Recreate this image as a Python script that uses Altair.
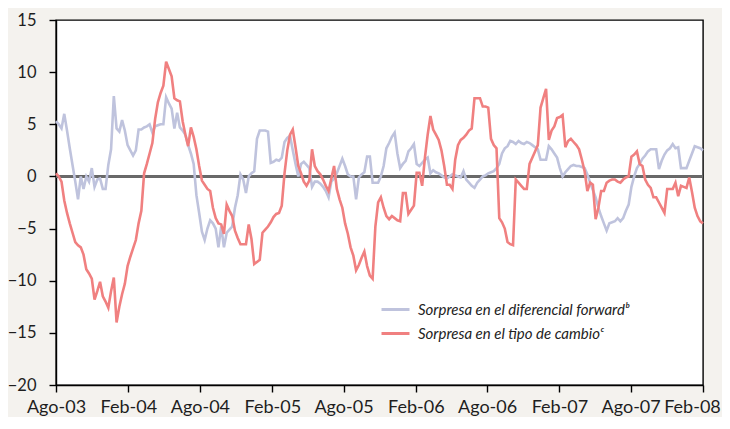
import altair as alt
import pandas as pd

# Weekly observations, Aug-2003 .. Feb-2008
dates = pd.date_range("2003-08-01", periods=236, freq="7D").strftime("%Y-%m-%d").tolist()

serie_forward = [
    5.3, 5.0, 4.6, 6.0, 4.4, 2.7, 1.1, -0.5, -2.2, 0.0,
    -1.2, 0.0, -0.5, 0.8, -1.0, -0.3, -0.2, -1.2, -1.2, 1.1,
    2.6, 7.7, 4.6, 4.3, 5.4, 4.4, 3.0, 2.5, 2.0, 2.5,
    4.5, 4.5, 4.7, 4.8, 5.0, 4.2, 4.8, 4.9, 5.0, 5.0,
    7.6, 7.0, 6.5, 4.6, 6.1, 4.7, 4.4, 4.0, 3.0, 2.2,
    1.2, -1.8, -3.5, -5.3, -6.1, -5.0, -4.2, -4.5, -5.0, -6.8,
    -4.8, -6.8, -5.4, -5.1, -4.8, -3.0, -1.8, 0.2, -0.3, -1.6,
    0.0, 0.3, 0.5, 3.6, 4.4, 4.4, 4.4, 4.3, 1.3, 1.4,
    1.6, 1.5, 1.8, 3.3, 3.7, 3.9, 2.5, 1.2, 0.0, 1.2,
    1.4, 1.1, 0.8, -1.0, -0.5, -0.5, -0.7, -1.0, -1.4, -2.0,
    -0.5, -0.2, 0.3, 1.0, 1.7, 1.0, 0.2, 0.0, 0.0, -2.2,
    -0.1, 0.2, 0.4, 1.9, 1.9, -0.6, -0.6, -0.6, 0.0, 1.0,
    2.7, 3.2, 3.8, 4.2, 2.2, 0.8, 1.2, 1.5, 2.4, 2.7,
    3.1, 1.2, 1.0, 1.3, 1.6, 1.8, 0.3, 0.6, 0.4, 0.3,
    0.1, -0.1, -0.2, 0.0, 0.2, 0.1, 0.0, -0.1, 0.5, -0.3,
    -0.6, -0.9, -1.1, -0.6, -0.3, 0.0, 0.1, 0.3, 0.4, 0.5,
    0.8, 1.2, 2.2, 2.7, 2.9, 3.4, 3.3, 3.1, 3.4, 3.2,
    3.1, 3.3, 3.2, 3.0, 2.8, 2.6, 1.6, 1.6, 1.6, 2.9,
    2.6, 2.2, 1.8, 0.8, 0.0, 0.4, 0.7, 1.0, 1.1, 1.0,
    1.0, 0.9, 0.8, 0.2, -0.6, -1.3, -2.0, -3.0, -3.8, -4.5,
    -5.2, -4.5, -4.4, -4.3, -4.0, -4.3, -4.0, -3.3, -2.7, -1.0,
    0.0, 0.8, 1.2, 1.7, 2.0, 2.4, 2.6, 2.6, 2.6, 0.7,
    1.5, 2.1, 2.5, 2.7, 3.1, 2.7, 2.8, 0.8, 0.8, 0.8,
    1.5, 2.2, 2.9, 2.8, 2.7, 2.5,
]

serie_cambio = [
    0.3, 0.0, -0.5, -2.3, -3.5, -4.5, -5.4, -6.3, -6.6, -6.8,
    -7.5, -8.9, -9.3, -9.8, -11.8, -11.0, -10.1, -11.5, -12.0, -12.6,
    -11.0, -9.7, -14.0, -12.5, -11.3, -10.3, -8.6, -7.7, -6.9, -6.1,
    -4.5, -3.3, 0.3, 1.2, 2.2, 3.2, 5.5, 7.1, 8.0, 8.7,
    11.0, 10.3, 9.6, 7.5, 7.3, 7.2, 5.3, 4.0, 2.9, 4.7,
    3.8, 2.6, 1.0, -0.4, -0.8, -1.2, -1.4, -3.0, -4.0, -4.5,
    -4.6, -5.5, -2.7, -3.3, -3.8, -5.2, -5.9, -6.5, -6.5, -6.5,
    -4.6, -6.0, -8.4, -8.2, -8.0, -5.4, -5.1, -4.8, -4.4, -3.9,
    -3.6, -3.5, -2.8, 0.3, 2.5, 4.0, 4.5, 2.8, 1.0, 0.3,
    -0.5, -0.9, -0.4, 2.6, 1.0, 0.5, 0.2, -0.3, -0.9, -1.4,
    -0.2, 1.0, -1.2, -2.2, -3.0, -4.5, -5.5, -6.8, -7.6, -9.0,
    -8.5, -7.8, -7.2, -8.6, -9.5, -9.8, -4.8, -2.5, -2.0, -3.0,
    -3.8, -4.1, -3.8, -4.0, -4.2, -4.3, -1.6, -1.6, -3.6, -3.2,
    -2.8, 0.35, 0.35, -0.9, 1.8, 4.0, 5.8, 4.5, 4.0, 3.5,
    2.5, 1.0, -0.8, -0.8, -1.2, 1.6, 3.0, 3.5, 3.7, 4.0,
    4.4, 4.6, 7.5, 7.5, 7.5, 6.7, 6.7, 6.6, 3.6, 3.0,
    2.7, -4.0, -4.4, -5.0, -6.3, -6.5, -6.6, -0.3, -0.6, -0.9,
    -1.2, -1.2, 1.2, 1.8, 2.4, 3.0, 6.6, 7.5, 8.4, 3.5,
    4.4, 4.8, 5.6, 5.7, 5.9, 2.8, 3.4, 3.6, 3.3, 3.0,
    2.6, 1.6, 0.5, -1.4, -0.6, -0.8, -4.1, -3.0, -1.4, -1.4,
    -0.6, -0.4, -0.3, -0.3, -0.5, -0.6, -0.3, -0.1, 0.0, 1.9,
    2.1, 2.4, 1.2, 1.0, -0.3, -0.8, -1.1, -2.0, -2.0, -2.5,
    -3.0, -3.5, -1.2, -1.2, -1.2, -0.6, -1.9, -0.9, -1.0, -1.1,
    -0.1, -1.5, -3.0, -3.8, -4.3, -4.5,
]

series_names = [
    "Sorpresa en el diferencial forward\u1d47",
    "Sorpresa en el tipo de cambio\u1d9c",
]
series_colors = ["#bfc3dd", "#f08080"]

y_ticks = [-20, -15, -10, -5, 0, 5, 10, 15]
x_tick_dates = [
    (2003, 8), (2004, 2), (2004, 8), (2005, 2), (2005, 8),
    (2006, 2), (2006, 8), (2007, 2), (2007, 8), (2008, 2),
]

rows = []
for d, v in zip(dates, serie_forward):
    rows.append({"fecha": d, "valor": v, "serie": series_names[0]})
for d, v in zip(dates, serie_cambio):
    rows.append({"fecha": d, "valor": v, "serie": series_names[1]})
df = pd.DataFrame(rows)

FONT = "Lato"

x_enc = alt.X(
    "fecha:T",
    scale=alt.Scale(
        type="utc",
        domain=[alt.DateTime(year=2003, month=8, date=1, utc=True),
                alt.DateTime(year=2008, month=2, date=1, utc=True)],
    ),
    axis=alt.Axis(
        values=[alt.DateTime(year=y, month=m, date=1, utc=True) for y, m in x_tick_dates],
        labelExpr="(utcmonth(datum.value) == 7 ? 'Ago-' : 'Feb-') + utcFormat(datum.value, '%y')",
        labelOverlap=False,
        labelFlush=False,
        labelBound=False,
        labelOffset={"expr": "datum.value >= 1201824000000 ? -11 : 0"},
        title=None,
        grid=False,
        tickSize=7,
        labelPadding=6,
        labelFontSize=18,
    ),
)
y_enc = alt.Y(
    "valor:Q",
    scale=alt.Scale(domain=[-20, 15], nice=False, zero=False),
    axis=alt.Axis(values=y_ticks, title=None, grid=False, tickSize=7,
                  labelPadding=13, labelFontSize=16.5),
)

zero = alt.Chart(df).mark_rule(color="#6a6a6a", strokeWidth=1.6).encode(y=alt.datum(0))

lines = alt.Chart(df).mark_line(strokeWidth=2.6, interpolate="linear").encode(
    x=x_enc,
    y=y_enc,
    color=alt.Color(
        "serie:N",
        scale=alt.Scale(domain=series_names, range=series_colors),
        legend=alt.Legend(
            title=None,
            orient="none",
            legendX=324,
            legendY=274,
            symbolType="stroke",
            symbolSize=784,
            symbolStrokeWidth=3,
            labelFontSize=15,
            labelFontStyle="italic",
            labelColor="#222222",
            labelOffset=7,
            labelLimit=500,
            rowPadding=0,
            padding=0,
        ),
    ),
)

chart = (
    alt.layer(zero, lines)
    .properties(
        width=647,
        height=365,
        background="#f4f2ee",
        padding={"left": 48, "top": 12, "right": 19, "bottom": 32},
        autosize=alt.AutoSizeParams(type="none"),
    )
    .configure_view(fill="white", stroke="#000000", strokeWidth=1.4)
    .configure_axis(
        domainColor="#000000",
        domainWidth=1.4,
        tickColor="#000000",
        tickWidth=1.4,
        labelColor="#1e1e1e",
        labelFont=FONT,
    )
    .configure_legend(labelFont=FONT)
)

chart.save("out.html", embed_options={"renderer": "svg", "actions": False})
